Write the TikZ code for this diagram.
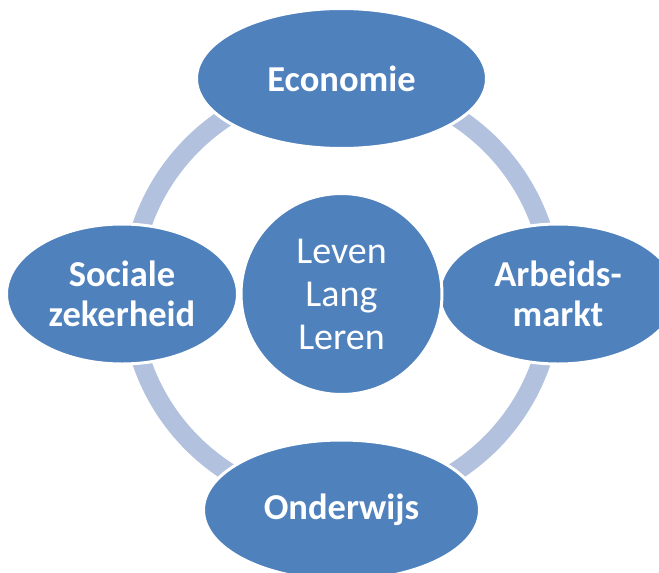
\documentclass[tikz,border=0pt]{standalone}
\usepackage{fontspec}
\setmainfont{Carlito}
\usetikzlibrary{shapes.geometric}
\definecolor{nodeblue}{RGB}{79,129,189}
\definecolor{ringblue}{RGB}{177,193,222}
\tikzset{
  sat/.style={ellipse, fill=nodeblue, draw=white, line width=3pt, inner sep=0pt,
    text=white, align=center, font=\fontsize{36.5}{40}\selectfont\bfseries},
  hub/.style={circle, fill=nodeblue, draw=white, line width=3pt, inner sep=0pt,
    minimum size=201pt, text=white, align=center, font=\fontsize{38}{43}\selectfont},
  ringline/.style={draw=ringblue, line width=19pt}
}
\begin{document}
\begin{tikzpicture}[x=1pt,y=-1pt]
\useasboundingbox (0,0) rectangle (659,573);
\clip (0,0) rectangle (659,573);
\coordinate (mid) at (341.5,294);
\draw[ringline] (mid) circle[radius=211pt];
\node[sat, minimum width=290pt, minimum height=140pt] (eco) at (341.5,78.5) {Economie};
\node[sat, minimum width=237pt, minimum height=140pt] (arb) at (558,294) {Arbeids-\\markt};
\node[sat, minimum width=276pt, minimum height=140pt] (ond) at (341.5,510) {Onderwijs};
\node[sat, minimum width=231pt, minimum height=140pt] (soc) at (122,294) {Sociale\\zekerheid};
\node[hub] (llo) at (mid) {Leven\\Lang\\Leren};
\end{tikzpicture}
\end{document}
